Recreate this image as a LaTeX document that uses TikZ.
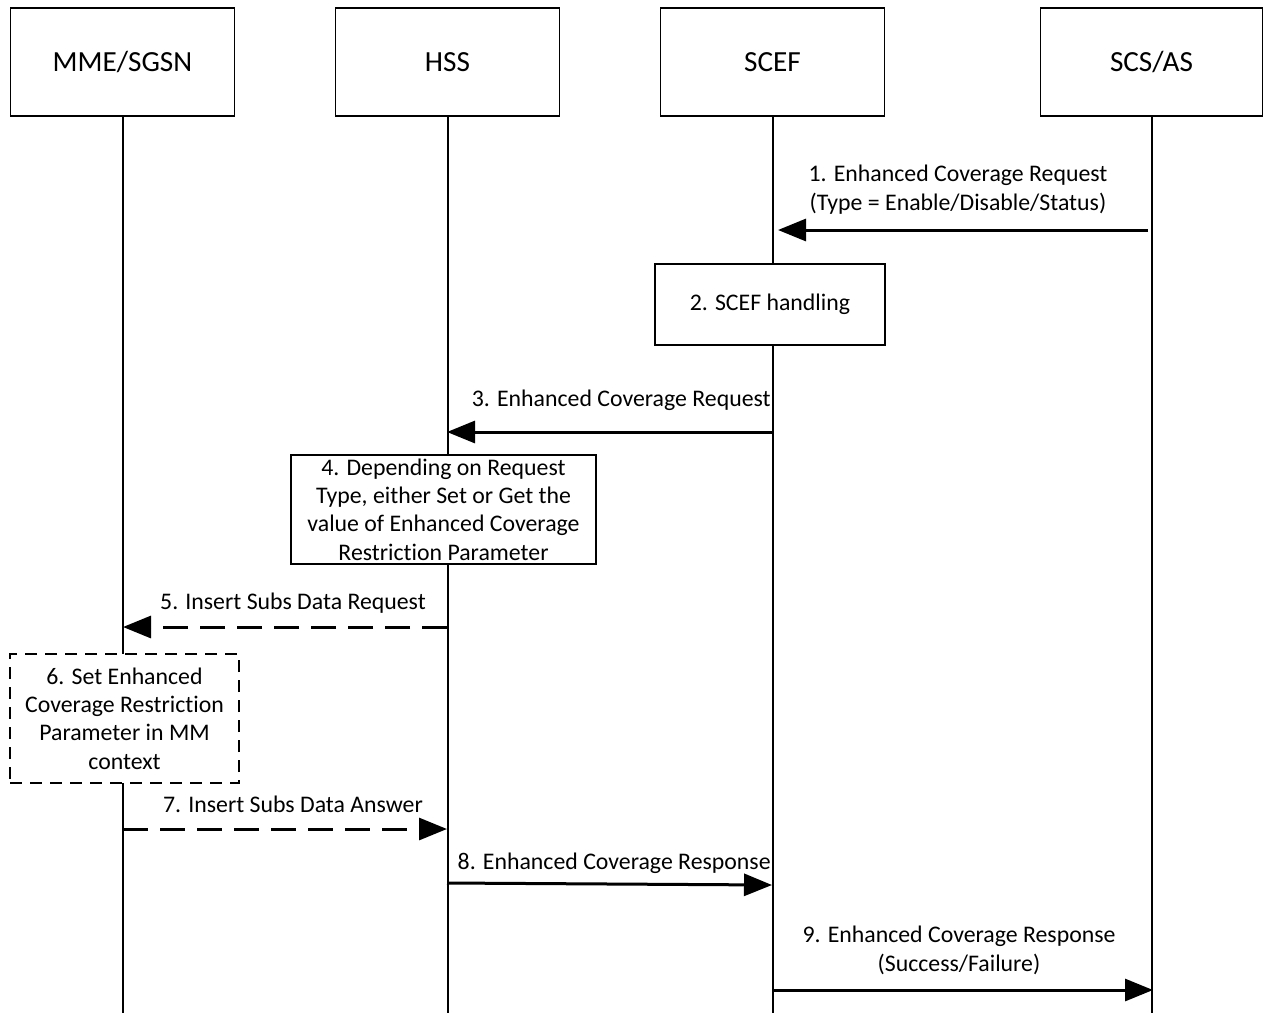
\documentclass[tikz,border=0pt]{standalone}
\usepackage{fontspec}
\setmainfont{Carlito}[Ligatures=NoCommon]
\usetikzlibrary{arrows.meta,calc,positioning}

\begin{document}
\begin{tikzpicture}[x=0.5pt,y=-0.5pt,
    entity/.style={draw, line width=0.8pt, minimum width=112pt, minimum height=54pt, font=\fontsize{14.6}{17}\selectfont},
    action/.style={draw, fill=white, line width=0.8pt, align=center, inner sep=0pt, font=\fontsize{11.9}{14.2}\selectfont},
    lifeline/.style={line width=1pt},
    msg/.style={line width=1.5pt, -{Triangle[length=14pt,width=11pt]}},
    optmsg/.style={msg, dash pattern=on 12.5pt off 6pt},
    lbl/.style={align=center, inner sep=0pt, font=\fontsize{11.9}{14.4}\selectfont}]
        \useasboundingbox (0,0) rectangle (1263,1013);
        % Entities
        \node[entity] (mme) at (122.5,62) {MME/SGSN};
        \node[entity] (hss) at (447.5,62) {HSS};
        \node[entity] (scef) at (772.5,62) {SCEF};
        \node[entity, minimum width=111pt] (scs) at (1151.5,62) {SCS/AS};
        % Lifelines
        \coordinate (bottom) at (0,1013);
        \draw[lifeline] (mme.south) -- (mme.south |- bottom);
        \draw[lifeline] (hss.south) -- (hss.south |- bottom);
        \draw[lifeline] (scef.south) -- (scef.south |- bottom);
        \draw[lifeline] (scs.south) -- (scs.south |- bottom);
        % Message end points
        \coordinate (m1a) at (1148,230);
        \coordinate (m1b) at (778,230);
        \coordinate (m3a) at (772,432);
        \coordinate (m3b) at (447,432);
        \coordinate (m5a) at (447,627);
        \coordinate (m5b) at (123,627);
        \coordinate (m7a) at (123,829);
        \coordinate (m7b) at (447,829);
        \coordinate (m8a) at (447,883);
        \coordinate (m8b) at (772,885);
        \coordinate (m9a) at (772,990);
        \coordinate (m9b) at (1153,990);
        % Messages
        \draw[msg] (m1a) -- (m1b);
        \node[lbl] (l1) at (958,190) {1. Enhanced Coverage Request\\(Type = Enable/Disable/Status)};
        \node[action, minimum width=115pt, minimum height=40.5pt] (a2) at (770,304.5) {2. SCEF handling};
        \draw[msg] (m3a) -- (m3b);
        \node[lbl, anchor=east] (l3) at (771,400) {3. Enhanced Coverage Request};
        \node[action, minimum width=152.5pt, minimum height=54.5pt] (a4) at (443.5,509.5) {4. Depending on Request\\Type, either Set or Get the\\value of Enhanced Coverage\\Restriction Parameter};
        \draw[optmsg] (m5a) -- (m5b);
        \node[lbl] (l5) at (293,603) {5. Insert Subs Data Request};
        \node[action, dash pattern=on 6pt off 4pt, minimum width=114.5pt, minimum height=64.5pt] (a6) at (124.5,718.5) {6. Set Enhanced\\Coverage Restriction\\Parameter in MM\\context};
        \draw[optmsg] (m7a) -- (m7b);
        \node[lbl] (l7) at (293,804) {7. Insert Subs Data Answer};
        \draw[msg] (m8a) -- (m8b);
        \node[lbl, anchor=east] (l8) at (771,863) {8. Enhanced Coverage Response};
        \draw[msg] (m9a) -- (m9b);
        \node[lbl] (l9) at (959,950) {9. Enhanced Coverage Response\\(Success/Failure)};
\end{tikzpicture}
\end{document}
